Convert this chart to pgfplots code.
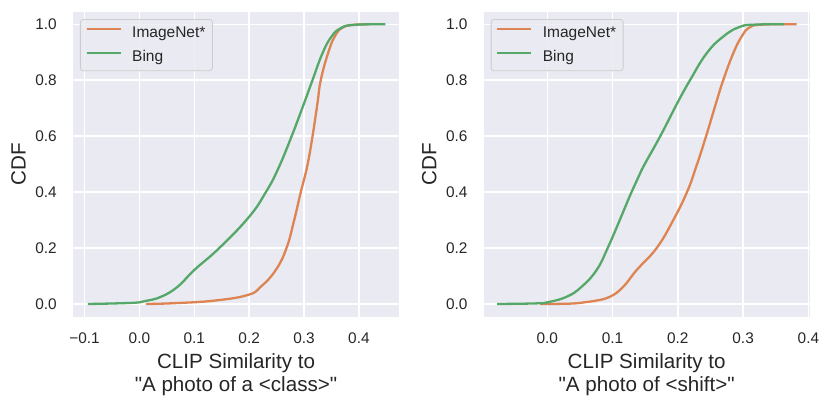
\documentclass[border=0pt]{standalone}
\usepackage{pgfplots}
\pgfplotsset{compat=1.18}
\usepackage{fontspec}
\setmainfont{Liberation Sans}[Ligatures=TeXOff]
\definecolor{sbbg}{HTML}{EAEAF2}
\definecolor{sborange}{HTML}{DD8452}
\definecolor{sbgreen}{HTML}{55A868}
\definecolor{sbtext}{HTML}{262626}
\definecolor{legedge}{HTML}{CCCCCC}

\pgfplotsset{
  sbstyle/.style={
    scale only axis,
    width=326pt, height=305pt,
    axis background/.style={fill=sbbg},
    axis line style={draw=none},
    major tick length=0pt,
    grid=major,
    major grid style={white, line width=1.5pt},
    ymin=-0.0465, ymax=1.044,
    ytick={0,0.2,0.4,0.6,0.8,1.0},
    yticklabels={0.0,0.2,0.4,0.6,0.8,1.0},
    tick label style={font=\fontsize{15.4}{18}\selectfont, text=sbtext, inner sep=0pt},
    yticklabel style={anchor=east, xshift=-16pt},
    xticklabel style={anchor=north, yshift=-16pt},
    ylabel={CDF},
    ylabel style={at={([xshift=-47pt]axis description cs:0,0.5)}, anchor=south, inner sep=0pt, font=\fontsize{20.6}{24}\selectfont, text=sbtext},
    xlabel style={at={(axis description cs:0.5,0)}, anchor=north, inner sep=0pt, yshift=-36pt, align=center, font=\fontsize{20.6}{23}\selectfont, text=sbtext},
    legend style={at={(0,1)}, anchor=north west, xshift=7pt, yshift=-7pt,
      draw=legedge, fill=sbbg, fill opacity=0.8, text opacity=1, draw opacity=1, rounded corners=3pt,
      font=\fontsize{15.5}{18}\selectfont, text=sbtext, line width=0.8pt,
      inner xsep=5pt, inner ysep=5.5pt, row sep=7.5pt, column sep=8.5pt,
      nodes={inner sep=2pt}},
    legend cell align=left,
    legend image code/.code={\draw[#1, line width=2.3pt] (0pt,0.7ex) -- (34pt,0.7ex);},
    curve/.style={line width=2.3pt, smooth, tension=0.75},
  }
}

\begin{document}
\begin{tikzpicture}
\useasboundingbox (0,0) rectangle (830pt,405pt);

\begin{axis}[sbstyle, at={(73pt,88pt)}, anchor=south west,
  xmin=-0.121, xmax=0.473,
  xtick={-0.1,0,0.1,0.2,0.3,0.4},
  xticklabels={−0.1,0.0,0.1,0.2,0.3,0.4},
  xlabel={CLIP Similarity to\\ "A photo of a <class>"}]
\addplot[sborange, curve] coordinates {
(0.012,0) (0.064,0.003) (0.136,0.012) (0.197,0.032) (0.2213,0.062)
(0.2485,0.1216) (0.268,0.2) (0.282,0.3) (0.294,0.4) (0.3055,0.49)
(0.3153,0.598) (0.3244,0.7175) (0.3304,0.8) (0.3436,0.896) (0.3558,0.956)
(0.37,0.988) (0.39,0.998) (0.42,1.0) };
\addlegendentry{ImageNet*}
\addplot[sbgreen, curve] coordinates {
(-0.094,0) (-0.015,0.004) (0.009,0.01) (0.0395,0.026) (0.0698,0.062)
(0.1,0.1216) (0.1455,0.2) (0.2,0.312) (0.2304,0.4) (0.252,0.48)
(0.277,0.598) (0.3,0.7175) (0.3153,0.8) (0.3335,0.896) (0.35,0.956)
(0.3667,0.986) (0.391,0.998) (0.448,1.0) };
\addlegendentry{Bing}
\end{axis}

\begin{axis}[sbstyle, at={(483.7pt,88pt)}, anchor=south west,
  xmin=-0.0974, xmax=0.402,
  xtick={0,0.1,0.2,0.3,0.4},
  xticklabels={0.0,0.1,0.2,0.3,0.4},
  xlabel={CLIP Similarity to\\ "A photo of <shift>"}]
\addplot[sborange, curve] coordinates {
(-0.011,0) (0.02,0.0005) (0.047,0.003) (0.07,0.01) (0.096,0.026)
(0.1164,0.062) (0.137,0.1216) (0.1675,0.2) (0.193,0.3) (0.214,0.4)
(0.228,0.49) (0.243,0.598) (0.2584,0.7175) (0.2695,0.8) (0.2848,0.896)
(0.2977,0.956) (0.310,0.989) (0.33,0.999) (0.382,1.0) };
\addlegendentry{ImageNet*}
\addplot[sbgreen, curve] coordinates {
(-0.077,0) (-0.02,0.002) (0,0.006) (0.0297,0.026) (0.0527,0.062)
(0.0756,0.1216) (0.0925,0.2) (0.111,0.3) (0.129,0.4) (0.1445,0.479)
(0.1726,0.598) (0.199,0.7175) (0.2186,0.8) (0.244,0.896) (0.2695,0.956)
(0.295,0.991) (0.32,0.999) (0.362,1.0) };
\addlegendentry{Bing}
\end{axis}
\end{tikzpicture}
\end{document}
